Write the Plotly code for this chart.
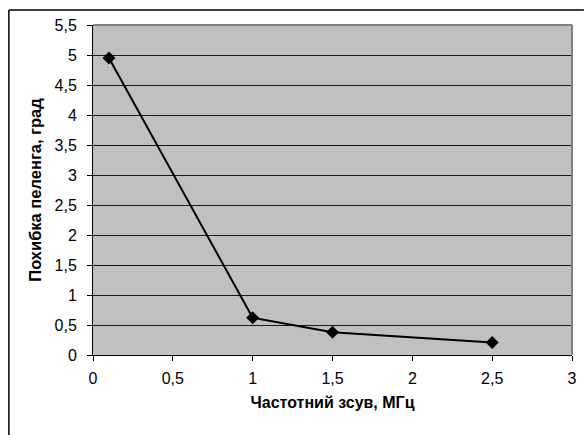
import plotly.graph_objects as go

x_shift = [0.1, 1.0, 1.5, 2.5]
y_error = [4.95, 0.62, 0.38, 0.21]

x_title = "Частотний зсув, МГц"
y_title = "Похибка пеленга, град"

W, H = 584, 435
L, R, T, B = 93, 7, 25, 80
pw, ph = W - L - R, H - T - B

def px(xp):
    return (xp - L) / pw

def py(yp):
    return (H - B - yp) / ph

fig = go.Figure()
fig.add_trace(go.Scatter(
    x=x_shift, y=y_error, mode="lines+markers",
    line=dict(color="black", width=2),
    marker=dict(symbol="diamond", size=10, color="black"),
    showlegend=False, cliponaxis=False,
))

font = "Liberation Sans, Arial, sans-serif"
fig.update_layout(
    width=W, height=H,
    margin=dict(l=L, r=R, t=T, b=B),
    paper_bgcolor="white", plot_bgcolor="#C0C0C0",
    separators=", ",
    font=dict(family=font, size=16, color="black"),
    xaxis=dict(
        range=[0, 3], dtick=0.5, tick0=0,
        showgrid=False, zeroline=False,
        showline=True, linecolor="black", linewidth=1,
        ticks="outside", ticklen=5, tickcolor="black",
        tickfont=dict(size=16), ticklabelstandoff=4,
        title=dict(text="<b>" + x_title + "</b>", font=dict(size=16), standoff=10),
    ),
    yaxis=dict(
        range=[0, 5.5], dtick=0.5, tick0=0,
        showgrid=True, gridcolor="#1a1a1a", gridwidth=1,
        zeroline=False,
        showline=True, linecolor="black", linewidth=1,
        ticks="outside", ticklen=5, tickcolor="black",
        tickfont=dict(size=16), ticklabelstandoff=7,
        title=dict(text="<b>" + y_title + "</b>", font=dict(size=16.5), standoff=8),
    ),
    shapes=[
        dict(type="line", xref="paper", yref="paper", x0=0, x1=1, y0=1, y1=1,
             line=dict(color="#808080", width=2)),
        dict(type="line", xref="paper", yref="paper", x0=1, x1=1, y0=0, y1=1,
             line=dict(color="#808080", width=2)),
        dict(type="line", xref="paper", yref="paper", x0=px(8), x1=px(8), y0=py(10), y1=py(H + 5),
             line=dict(color="black", width=1.5)),
        dict(type="line", xref="paper", yref="paper", x0=px(8), x1=px(W + 5), y0=py(10), y1=py(10),
             line=dict(color="black", width=1.5)),
    ],
)

fig.write_html("out.html")
